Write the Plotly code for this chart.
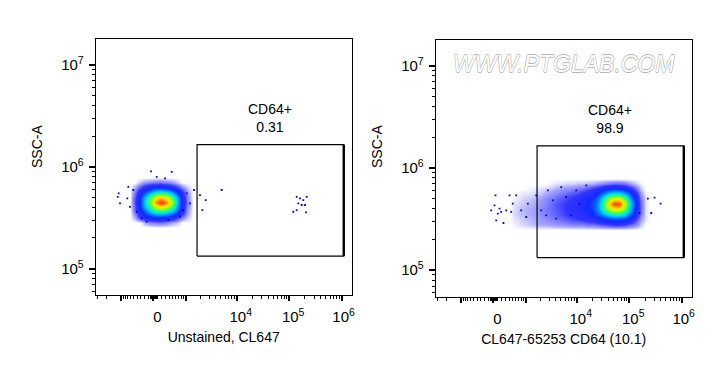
import numpy as np
import plotly.graph_objects as go

# ---------------- data ----------------
COFACTOR = 516.0  # arcsinh cofactor of the fluorescence (biexponential-like) axis

x_limits = [-3205, 1.55e6]          # fluorescence axis limits
ssc_limits = [5.508e4, 1.79e7]      # SSC-A axis limits

# density grid: bin centres and relative event density
ssc_bins = [251200, 281800, 316200, 354800, 398100, 446700, 501200, 562300, 631000, 707900, 794300]

left_bins_fl = [-637, -462, -314, -182, -59.5, 59.5, 182, 314, 462, 637, 842, 1095, 1405]
left_density = [
    [0, 0.0, 0.0, 0.0, 0.0, 0.0, 0.0, 0.0, 0.0, 0.0, 0.0, 0.0, 0],
    [0, 0.0, 0.0, 0.3, 0.5, 0.6, 0.6, 0.5, 0.3, 0.2, 0.0, 0.0, 0],
    [0, 0.3, 1.0, 1.5, 1.8, 2.0, 2.0, 1.8, 1.5, 1.0, 0.5, 0.2, 0],
    [0, 0.6, 1.5, 2.5, 3.5, 4.2, 4.3, 4.0, 3.3, 2.3, 1.2, 0.4, 0],
    [0, 0.8, 2.0, 3.5, 5.0, 6.3, 6.8, 6.3, 5.0, 3.3, 1.5, 0.5, 0],
    [0, 0.9, 2.2, 4.0, 6.0, 8.3, 9.5, 8.5, 6.0, 3.8, 1.7, 0.6, 0],
    [0, 0.8, 2.0, 3.7, 5.5, 7.0, 7.5, 7.0, 5.3, 3.5, 1.6, 0.5, 0],
    [0, 0.6, 1.5, 2.5, 3.5, 4.3, 4.6, 4.3, 3.4, 2.3, 1.2, 0.4, 0],
    [0, 0.3, 0.8, 1.3, 1.8, 2.0, 2.0, 1.8, 1.4, 1.0, 0.5, 0.2, 0],
    [0, 0.0, 0.2, 0.4, 0.5, 0.6, 0.6, 0.5, 0.4, 0.2, 0.0, 0.0, 0],
    [0, 0.0, 0.0, 0.0, 0.0, 0.0, 0.0, 0.0, 0.0, 0.0, 0.0, 0.0, 0],
]

right_bins_fl = [385, 545, 734, 962, 1241, 1587, 2017, 2554, 3227, 4073, 5134, 6470, 8149,
                 10260, 12930, 16280, 20490, 25800, 32480, 40890, 51480, 64800, 81580,
                 102700, 129300, 162800, 204900, 258000]
right_density = [
    [0, 0.0, 0.0, 0.0, 0.0, 0.0, 0.0, 0.0, 0.0, 0.0, 0.0, 0.0, 0.0, 0.0, 0.0, 0.0, 0.0, 0.0, 0.0, 0.0, 0.0, 0.0, 0.0, 0.0, 0.0, 0.0, 0.0, 0],
    [0, 0.05, 0.1, 0.15, 0.2, 0.25, 0.3, 0.3, 0.35, 0.4, 0.4, 0.45, 0.5, 0.5, 0.5, 0.6, 0.6, 0.7, 0.8, 0.9, 1.0, 1.0, 0.9, 0.7, 0.5, 0.2, 0.0, 0],
    [0, 0.1, 0.15, 0.2, 0.25, 0.3, 0.4, 0.45, 0.55, 0.6, 0.7, 0.8, 0.9, 1.0, 1.1, 1.2, 1.4, 1.7, 2.0, 2.3, 2.5, 2.5, 2.3, 1.8, 1.0, 0.4, 0.1, 0],
    [0, 0.15, 0.2, 0.25, 0.3, 0.35, 0.45, 0.55, 0.65, 0.75, 0.85, 1.0, 1.1, 1.2, 1.4, 1.6, 2.0, 2.8, 3.6, 4.3, 4.8, 4.8, 4.2, 3.0, 1.6, 0.6, 0.1, 0],
    [0, 0.12, 0.2, 0.25, 0.3, 0.35, 0.45, 0.55, 0.7, 0.8, 0.9, 1.05, 1.2, 1.35, 1.6, 1.9, 2.4, 3.3, 4.8, 6.2, 7.2, 7.0, 5.8, 3.8, 2.0, 0.7, 0.1, 0],
    [0, 0.1, 0.15, 0.2, 0.25, 0.3, 0.4, 0.5, 0.65, 0.8, 0.9, 1.0, 1.15, 1.3, 1.55, 1.9, 2.4, 3.4, 5.0, 7.2, 9.3, 9.0, 6.8, 4.2, 2.1, 0.7, 0.1, 0],
    [0, 0.05, 0.1, 0.15, 0.2, 0.25, 0.35, 0.45, 0.55, 0.7, 0.8, 0.9, 1.05, 1.2, 1.45, 1.8, 2.2, 3.0, 4.4, 6.0, 7.0, 6.8, 5.6, 3.6, 1.8, 0.6, 0.1, 0],
    [0, 0.0, 0.05, 0.1, 0.1, 0.15, 0.2, 0.3, 0.4, 0.5, 0.6, 0.7, 0.8, 0.9, 1.1, 1.3, 1.6, 2.2, 3.0, 3.8, 4.3, 4.2, 3.6, 2.5, 1.3, 0.4, 0.05, 0],
    [0, 0.0, 0.0, 0.0, 0.05, 0.05, 0.1, 0.15, 0.2, 0.3, 0.35, 0.4, 0.5, 0.55, 0.65, 0.8, 1.0, 1.3, 1.7, 2.0, 2.2, 2.1, 1.8, 1.3, 0.7, 0.2, 0.0, 0],
    [0, 0.0, 0.0, 0.0, 0.0, 0.0, 0.0, 0.0, 0.05, 0.1, 0.1, 0.15, 0.15, 0.2, 0.2, 0.25, 0.3, 0.4, 0.5, 0.6, 0.7, 0.7, 0.6, 0.4, 0.2, 0.05, 0.0, 0],
    [0, 0.0, 0.0, 0.0, 0.0, 0.0, 0.0, 0.0, 0.0, 0.0, 0.0, 0.0, 0.0, 0.0, 0.0, 0.0, 0.0, 0.0, 0.0, 0.0, 0.0, 0.0, 0.0, 0.0, 0.0, 0.0, 0.0, 0],
]

# isolated events
left_sparse_fl = [-1175, -1052, -1121, -686, -724, -624, -513, -410, -274, -151, -52, 77,
                  463, 277, 1057, 1239, 1494, 1966, 2183, 2542, 5170, 752, 893, 365,
                  138960, 160600, 185700, 215500, 149100, 173200, 200100, 119700, 138960, 209000]
left_sparse_ssc = [508e3, 438e3, 548e3, 637e3, 490e3, 405e3, 592e3, 362e3, 312e3, 289e3, 902e3, 798e3,
                   893e3, 769e3, 548e3, 438e3, 592e3, 528e3, 376e3, 472e3, 592e3, 324e3, 376e3, 300e3,
                   508e3, 490e3, 472e3, 508e3, 438e3, 422e3, 422e3, 362e3, 376e3, 357e3]

right_sparse_fl = [50, 27, 142, 66, 182, 308, 448, 238, 496, 102, -48, 399,
                   609, 801, 1031, 1115, 1655, 2075, 2600, 2792, 3488, 4056, 5057, 6300,
                   7854, 9783, 11310, 15180,
                   226200, 303400, 394700, 262500, 157200]
right_sparse_ssc = [541e3, 431e3, 401e3, 308e3, 372e3, 386e3, 372e3, 290e3, 449e3, 358e3, 386e3, 541e3,
                    541e3, 386e3, 332e3, 449e3, 541e3, 386e3, 345e3, 605e3, 483e3, 320e3, 652e3, 521e3,
                    345e3, 605e3, 449e3, 676e3,
                    502e3, 514e3, 449e3, 363e3, 363e3]

gate_fl = [1720, 1.095e6]
gate_ssc = [1.33e5, 1.65e6]
gate_name = "CD64+"
gate_pct = ["0.31", "98.9"]
x_titles = ["Unstained, CL647", "CL647-65253 CD64 (10.1)"]
y_title = "SSC-A"
watermark = "WWW.PTGLAB.COM"

x_major = [-1000, 0, 1000, 1e4, 1e5, 1e6]
x_major_text = ["", "0", "", "10<sup>4</sup>", "10<sup>5</sup>", "10<sup>6</sup>&nbsp;"]
x_minor = ([-3000, -2000] + [v for v in range(-900, 1000, 100) if v != 0]
           + list(range(-70, 80, 10))
           + [k * 10 ** e for e in (3, 4, 5) for k in range(2, 10)])
y_major = [1e5, 1e6, 1e7]
y_major_text = ["10<sup>5</sup>", "10<sup>6</sup>", "10<sup>7</sup>"]
y_minor = [k * 10 ** e for e in (4, 5, 6, 7) for k in range(2, 10)]


def biex(x):
    return np.arcsinh(np.asarray(x, dtype=float) / COFACTOR) / np.log(10)


# ---------------- figure ----------------
FONT = "Liberation Sans, Arial, sans-serif"
jet = [
    [0.0, "rgba(0,0,255,0)"],
    [0.03, "rgba(0,0,255,0.35)"],
    [0.10, "rgba(0,0,255,0.8)"],
    [0.20, "rgba(0,30,255,0.95)"],
    [0.32, "rgb(0,150,255)"],
    [0.41, "rgb(0,230,235)"],
    [0.51, "rgb(40,255,110)"],
    [0.62, "rgb(180,255,0)"],
    [0.72, "rgb(255,230,0)"],
    [0.85, "rgb(255,120,0)"],
    [1.0, "rgb(255,0,0)"],
]

fig = go.Figure()
panels = [
    ("x", "y", left_bins_fl, left_density, left_sparse_fl, left_sparse_ssc),
    ("x2", "y2", right_bins_fl, right_density, right_sparse_fl, right_sparse_ssc),
]
for i, (xa, ya, bins, dens, sfl, sssc) in enumerate(panels):
    fig.add_trace(go.Heatmap(x=biex(bins), y=ssc_bins, z=dens, zmin=0, zmax=10,
                             colorscale=jet, zsmooth="best", showscale=False,
                             hoverinfo="skip", xaxis=xa, yaxis=ya))
    fig.add_trace(go.Scatter(x=biex(sfl), y=sssc, mode="markers",
                             marker=dict(symbol="square", size=1.8, color="rgb(0,0,235)", line=dict(width=0)),
                             hoverinfo="skip", xaxis=xa, yaxis=ya))
    gx = biex([gate_fl[0], gate_fl[1], gate_fl[1], gate_fl[0], gate_fl[0]])
    gy = [gate_ssc[0], gate_ssc[0], gate_ssc[1], gate_ssc[1], gate_ssc[0]]
    fig.add_trace(go.Scatter(x=gx, y=gy, mode="lines", line=dict(color="black", width=1.2),
                             hoverinfo="skip", xaxis=xa, yaxis=ya))
    fig.add_trace(go.Scatter(x=biex([gate_fl[1], gate_fl[1]]), y=gate_ssc, mode="lines",
                             line=dict(color="black", width=2.4), hoverinfo="skip", xaxis=xa, yaxis=ya))
    fig.add_annotation(x=float(np.mean(biex(gate_fl))), y=float(np.log10(gate_ssc[1])),
                       xref=xa, yref=ya, text=f"{gate_name}<br>{gate_pct[i]}",
                       showarrow=False, yanchor="bottom", yshift=8,
                       font=dict(family=FONT, size=14, color="black"))

axis_common = dict(showline=True, linecolor="black", linewidth=1, mirror=True, automargin=False,
                   showgrid=False, zeroline=False, ticks="outside", tickcolor="black",
                   tickfont=dict(family=FONT, size=15, color="black"))
xr = [float(v) for v in biex(x_limits)]
yr = [float(np.log10(v)) for v in ssc_limits]
# page has an 8px body margin; domains are set in figure pixels
xdoms = [[0.1232, 0.4827], [0.6007, 0.9603]]
ydoms = [[0.2137, 0.9142], [0.2090, 0.9123]]
for i in range(2):
    sfx = "" if i == 0 else "2"
    fig.update_layout(**{
        "xaxis" + sfx: dict(axis_common, domain=xdoms[i], range=xr, anchor="y" + sfx,
                            tickmode="array", tickvals=[float(v) for v in biex(x_major)],
                            ticktext=x_major_text, ticklen=5, tickwidth=1.6, ticklabelshift=4,
                            ticklabelstandoff=3,
                            minor=dict(tickmode="array", tickvals=[float(v) for v in biex(x_minor)],
                                       ticklen=3, tickwidth=1, tickcolor="black", ticks="outside"),
                            title=dict(text=x_titles[i], font=dict(family=FONT, size=14, color="black"),
                                       standoff=8)),
        "yaxis" + sfx: dict(axis_common, domain=ydoms[i], type="log", range=yr, anchor="x" + sfx,
                            tickmode="array", tickvals=y_major, ticktext=y_major_text,
                            ticklen=6, tickwidth=1.6, ticklabelstandoff=2,
                            minor=dict(tickmode="array", tickvals=y_minor, ticklen=3, tickwidth=1,
                                       tickcolor="black", ticks="outside")),
    })
    fig.add_annotation(x=(29 if i == 0 else 369) / 712, y=0.6192, xref="paper", yref="paper",
                       xanchor="center", yanchor="middle",
                       text=y_title, textangle=-90, showarrow=False,
                       font=dict(family=FONT, size=14, color="black"))

fig.add_annotation(x=0.781, y=0.8466, xref="paper", yref="paper", text=watermark, showarrow=False,
                   xanchor="center", yanchor="middle",
                   font=dict(family=FONT, size=23, color="white", style="italic",
                             shadow="-0.6px 0 #b8b8b8, 0.6px 0 #b8b8b8, 0 0.6px #b8b8b8, 0 -0.6px #b8b8b8"))

fig.update_layout(width=712, height=365, margin=dict(l=0, r=0, t=0, b=0),
                  paper_bgcolor="white", plot_bgcolor="white", showlegend=False)
fig.write_html("out.html")
